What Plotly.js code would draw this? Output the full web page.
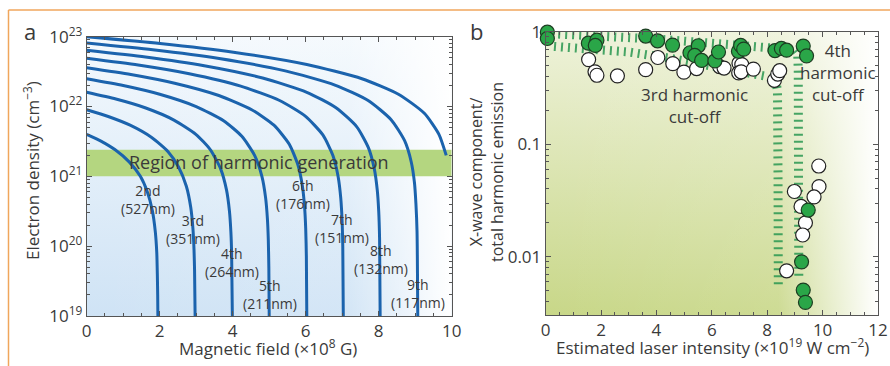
<!DOCTYPE html>
<html><head><meta charset="utf-8">
<script src="https://cdn.plot.ly/plotly-3.0.1.min.js"></script>
<style>html,body{margin:0;padding:0;background:#fff}#chart{width:890px;height:366px}</style>
</head><body><div id="chart"></div>
<script>
// ---------- Panel a: cut-off curves (magnetic field ×1e8 G, electron density cm^-3) ----------
const fieldH2  = [0, 0.39, 0.78, 1.17, 1.47, 1.66, 1.80, 1.88, 1.92, 1.935, 1.945, 1.95];
const densH2   = [4.0e21, 3.2e21, 2.4e21, 1.6e21, 1.0e21, 6.0e20, 3.2e20, 1.6e20, 8.0e19, 4.0e19, 2.0e19, 1.0e19];
const fieldH3  = [0, 0.59, 1.19, 1.78, 2.23, 2.52, 2.73, 2.85, 2.91, 2.94, 2.955, 2.97];
const densH3   = [9.0e21, 7.2e21, 5.4e21, 3.6e21, 2.25e21, 1.35e21, 7.2e20, 3.6e20, 1.8e20, 9.0e19, 4.5e19, 1.0e19];
const fieldH4  = [0, 0.80, 1.60, 2.39, 2.99, 3.39, 3.67, 3.83, 3.91, 3.95, 3.97, 3.99];
const densH4   = [1.6e22, 1.28e22, 9.6e21, 6.4e21, 4.0e21, 2.4e21, 1.28e21, 6.4e20, 3.2e20, 1.6e20, 8.0e19, 1.0e19];
const fieldH5  = [0, 1.0, 2.0, 3.0, 3.75, 4.25, 4.6, 4.8, 4.9, 4.95, 4.975, 4.99, 5.0];
const densH5   = [2.5e22, 2.0e22, 1.5e22, 1.0e22, 6.25e21, 3.75e21, 2.0e21, 1.0e21, 5.0e20, 2.5e20, 1.25e20, 5.0e19, 1.0e19];
const fieldH6  = [0, 1.21, 2.41, 3.62, 4.52, 5.13, 5.55, 5.79, 5.91, 5.97, 6.00, 6.018, 6.03];
const densH6   = [3.6e22, 2.88e22, 2.16e22, 1.44e22, 9.0e21, 5.4e21, 2.88e21, 1.44e21, 7.2e20, 3.6e20, 1.8e20, 7.2e19, 1.0e19];
const fieldH7  = [0, 1.41, 2.81, 4.22, 5.27, 5.98, 6.47, 6.75, 6.89, 6.96, 6.995, 7.016, 7.03];
const densH7   = [4.9e22, 3.92e22, 2.94e22, 1.96e22, 1.23e22, 7.35e21, 3.92e21, 1.96e21, 9.8e20, 4.9e20, 2.45e20, 9.8e19, 1.0e19];
const fieldH8  = [0, 1.61, 3.22, 4.82, 6.03, 6.83, 7.40, 7.72, 7.88, 7.96, 8.00, 8.024, 8.04];
const densH8   = [6.4e22, 5.12e22, 3.84e22, 2.56e22, 1.6e22, 9.6e21, 5.12e21, 2.56e21, 1.28e21, 6.4e20, 3.2e20, 1.28e20, 1.0e19];
const fieldH9  = [0, 1.81, 3.63, 5.44, 6.80, 7.71, 8.34, 8.71, 8.89, 8.98, 9.02, 9.05, 9.07];
const densH9   = [8.1e22, 6.48e22, 4.86e22, 3.24e22, 2.03e22, 1.22e22, 6.48e21, 3.24e21, 1.62e21, 8.1e20, 4.05e20, 1.62e20, 1.0e19];
const fieldH10 = [0, 2.01, 4.02, 6.03, 7.54, 8.54, 9.25, 9.65, 9.85];
const densH10  = [1.0e23, 8.0e22, 6.0e22, 4.0e22, 2.5e22, 1.5e22, 8.0e21, 4.0e21, 2.0e21];

const harmonicLabels = ["2nd<br>(527nm)","3rd<br>(351nm)","4th<br>(264nm)","5th<br>(211nm)",
                        "6th<br>(176nm)","7th<br>(151nm)","8th<br>(132nm)","9th<br>(117nm)"];
const labelField = [1.67, 2.92, 3.97, 5.02, 5.92, 7.0, 8.06, 9.07];
const labelDens  = [4.6e20, 1.75e20, 5.9e19, 2.0e19, 5.5e20, 1.8e20, 6.5e19, 2.1e19];

const bandField = [0, 10, 10, 0];
const bandDens  = [1.0e21, 1.0e21, 2.4e21, 2.4e21];
const densTickVals = [1e19, 1e20, 1e21, 1e22, 1e23];
const densTickText = ["10<sup>19</sup>","10<sup>20</sup>","10<sup>21</sup>","10<sup>22</sup>","10<sup>23</sup>"];

// ---------- Panel b: X-wave fraction vs laser intensity ----------
const xGreen = [0.06, 0.06, 1.54, 1.85, 1.79, 3.61, 4.04, 4.58, 5.21, 5.51, 5.38, 5.63, 6.11, 6.24, 6.96, 7.04, 7.15, 8.28, 8.51, 8.70, 9.30, 9.42, 9.48, 9.24, 9.30, 9.38];
const yGreen = [0.99, 0.87, 0.79, 0.84, 0.755, 0.915, 0.83, 0.76, 0.65, 0.75, 0.615, 0.555, 0.55, 0.66, 0.67, 0.755, 0.70, 0.68, 0.71, 0.685, 0.745, 0.61, 0.026, 0.0090, 0.00505, 0.00393];
const xOpen  = [1.55, 1.78, 1.85, 2.59, 3.61, 4.05, 4.59, 4.99, 5.45, 6.28, 6.44, 6.98, 7.08, 6.97, 7.06, 7.50, 8.26, 8.38, 8.45, 9.86, 8.98, 9.87, 9.69, 9.22, 9.38, 9.28, 8.70];
const yOpen  = [0.565, 0.44, 0.41, 0.405, 0.46, 0.59, 0.52, 0.437, 0.47, 0.49, 0.475, 0.525, 0.51, 0.43, 0.44, 0.465, 0.37, 0.42, 0.45, 0.064, 0.038, 0.042, 0.034, 0.028, 0.020, 0.0156, 0.0075];

const xCut3 = [0.3, 1.5, 3.0, 4.5, 6.0, 7.2, 8.0, 8.3, 8.37, 8.39, 8.40];
const yCut3 = [0.74, 0.71, 0.66, 0.58, 0.50, 0.45, 0.40, 0.37, 0.30, 0.05, 0.0053];
const xCut4 = [0.2, 2.0, 4.0, 6.0, 7.5, 8.6, 9.0, 9.10, 9.12, 9.13, 9.14];
const yCut4 = [0.96, 0.93, 0.86, 0.79, 0.74, 0.71, 0.69, 0.64, 0.45, 0.05, 0.0062];

const FONT = "Open Sans, Noto Sans, sans-serif";
const TXT = "#3a3a3a";
const CURVE = "#1b63ad";

const traces = [];
traces.push({x:bandField, y:bandDens, xaxis:'x', yaxis:'y', mode:'lines', fill:'toself',
  fillcolor:'#b4d680', line:{width:0, color:'#b4d680'}, hoverinfo:'skip', showlegend:false});
const curves = [[fieldH2,densH2],[fieldH3,densH3],[fieldH4,densH4],[fieldH5,densH5],[fieldH6,densH6],
                [fieldH7,densH7],[fieldH8,densH8],[fieldH9,densH9],[fieldH10,densH10]];
curves.forEach(c => traces.push({x:c[0], y:c[1], xaxis:'x', yaxis:'y', mode:'lines',
  line:{color:CURVE, width:3, shape:'spline', smoothing:0.6}, hoverinfo:'skip', showlegend:false}));

traces.push({x:xCut3, y:yCut3, xaxis:'x2', yaxis:'y2', mode:'lines',
  line:{color:'rgba(40,150,80,0.85)', width:9, dash:'2px,5px'}, showlegend:false});
traces.push({x:xCut4, y:yCut4, xaxis:'x2', yaxis:'y2', mode:'lines',
  line:{color:'rgba(40,150,80,0.85)', width:9, dash:'2px,5px'}, showlegend:false});
traces.push({x:xOpen, y:yOpen, xaxis:'x2', yaxis:'y2', mode:'markers', cliponaxis:false,
  marker:{size:14, color:'#ffffff', line:{color:'#222', width:1.2}}, showlegend:false});
traces.push({x:xGreen, y:yGreen, xaxis:'x2', yaxis:'y2', mode:'markers', cliponaxis:false,
  marker:{size:14, color:'#2aa648', line:{color:'#1d3d22', width:1.2}}, showlegend:false});

// background: vertical colour gradient with a fade to white at the right edge
function grad(top, bottom, fadeStart){
  const s = '<svg xmlns="http://www.w3.org/2000/svg" width="100" height="100" viewBox="0 0 100 100" preserveAspectRatio="none">'
    + '<defs><linearGradient id="v" x1="0" y1="0" x2="0" y2="1">'
    + '<stop offset="0" stop-color="'+top+'"/><stop offset="1" stop-color="'+bottom+'"/></linearGradient>'
    + '<linearGradient id="h" x1="0" y1="0" x2="1" y2="0">'
    + '<stop offset="0" stop-color="#ffffff" stop-opacity="0"/>'
    + '<stop offset="'+fadeStart+'" stop-color="#ffffff" stop-opacity="0.1"/>'
    + '<stop offset="1" stop-color="#ffffff" stop-opacity="1"/></linearGradient></defs>'
    + '<rect x="0" y="0" width="100" height="100" fill="url(#v)"/>'
    + '<rect x="0" y="0" width="100" height="100" fill="url(#h)"/></svg>';
  return 'data:image/svg+xml;charset=utf-8,' + encodeURIComponent(s);
}

const W = 890, H = 366;
const axA = {x0:86.7, x1:451.7, y0:36.7, y1:316};
const axB = {x0:545.7, x1:878, y0:31.7, y1:315};
const dx = a => [a.x0/W, a.x1/W];
const dy = a => [1 - a.y1/H, 1 - a.y0/H];
const axisCommon = {showline:true, linecolor:'#555', linewidth:1, mirror:'ticks', ticks:'inside',
  ticklen:5, tickcolor:'#555', showgrid:false, zeroline:false,
  tickfont:{family:FONT, size:17, color:TXT}};

const layout = {
  width:W, height:H, margin:{l:0,r:0,t:0,b:0},
  paper_bgcolor:'#fff', plot_bgcolor:'rgba(0,0,0,0)', showlegend:false,
  font:{family:FONT, color:TXT},
  xaxis: Object.assign({}, axisCommon, {domain:dx(axA), range:[0,10], anchor:'y', tickvals:[0,2,4,6,8,10],
    minor:{dtick:0.5, ticks:'inside', ticklen:3, tickcolor:'#555'}}),
  yaxis: Object.assign({}, axisCommon, {domain:dy(axA), type:'log', range:[19,23], anchor:'x',
    tickmode:'array', tickvals:densTickVals, ticktext:densTickText,
    minor:{dtick:'D1', ticks:'inside', ticklen:3, tickcolor:'#555'}}),
  xaxis2: Object.assign({}, axisCommon, {domain:dx(axB), range:[0,12], anchor:'y2', tickvals:[0,2,4,6,8,10,12],
    minor:{dtick:0.5, ticks:'inside', ticklen:3, tickcolor:'#555'}}),
  yaxis2: Object.assign({}, axisCommon, {domain:dy(axB), type:'log', range:[-2.518,0], anchor:'x2',
    tickmode:'array', tickvals:[0.01,0.1,1], ticktext:['0.01','0.1','1'],
    minor:{dtick:'D1', ticks:'inside', ticklen:3, tickcolor:'#555'}}),
  images:[
    {source:grad('#f4f9fd','#cfe3f5',0.72), xref:'x domain', yref:'y domain',
     x:0, y:1, sizex:1, sizey:1, sizing:'stretch', layer:'below', xanchor:'left', yanchor:'top'},
    {source:grad('#eef2da','#c8d788',0.7), xref:'x2 domain', yref:'y2 domain',
     x:0, y:1, sizex:1, sizey:1, sizing:'stretch', layer:'below', xanchor:'left', yanchor:'top'}
  ],
  shapes:[
    {type:'line', xref:'paper', yref:'paper', x0:8.5/W, x1:8.5/W, y0:0, y1:1-10/H, line:{color:'#f0a65c', width:1.5}},
    {type:'line', xref:'paper', yref:'paper', x0:8.5/W, x1:1, y0:1-10/H, y1:1-10/H, line:{color:'#f0a65c', width:1.5}}
  ],
  annotations:[]
};

const ann = layout.annotations;
const C = {xanchor:'center', yanchor:'middle', showarrow:false};
ann.push(Object.assign({xref:'x', yref:'y', x:4.71, y:Math.log10(1.58e21), text:'Region of harmonic generation',
  font:{family:FONT, size:18, color:TXT}}, C));
harmonicLabels.forEach((t,i) => ann.push(Object.assign({xref:'x', yref:'y', x:labelField[i], y:Math.log10(labelDens[i]), text:t,
  font:{family:FONT, size:14, color:TXT}}, C)));
ann.push(Object.assign({xref:'x2', yref:'y2', x:5.39, y:Math.log10(0.223), text:'3rd harmonic<br>cut-off',
  font:{family:FONT, size:17, color:TXT}}, C));
ann.push(Object.assign({xref:'x2', yref:'y2', x:10.57, y:Math.log10(0.432), text:'4th<br>harmonic<br>cut-off',
  font:{family:FONT, size:17, color:TXT}}, C));
// panel letters and axis titles
ann.push(Object.assign({xref:'paper', yref:'paper', x:30/W, y:1-31/H, text:'a', font:{family:FONT, size:22, color:TXT}}, C));
ann.push(Object.assign({xref:'paper', yref:'paper', x:476/W, y:1-31/H, text:'b', font:{family:FONT, size:22, color:TXT}}, C));
ann.push(Object.assign({xref:'paper', yref:'paper', x:268/W, y:1-347/H, text:'Magnetic field (×10<sup>8</sup> G)',
  font:{family:FONT, size:17, color:TXT}}, C));
ann.push(Object.assign({xref:'paper', yref:'paper', x:31/W, y:1-171/H, text:'Electron density (cm<sup>−3</sup>)', textangle:-90,
  font:{family:FONT, size:17, color:TXT}}, C));
ann.push(Object.assign({xref:'paper', yref:'paper', x:712/W, y:1-346/H, text:'Estimated laser intensity (×10<sup>19</sup> W cm<sup>−2</sup>)',
  font:{family:FONT, size:17, color:TXT}}, C));
ann.push(Object.assign({xref:'paper', yref:'paper', x:486/W, y:1-172/H, text:'X-wave component/<br>total harmonic emission', textangle:-90,
  font:{family:FONT, size:16, color:TXT}}, C));

Plotly.newPlot('chart', traces, layout, {staticPlot:true, displayModeBar:false});
</script></body></html>
